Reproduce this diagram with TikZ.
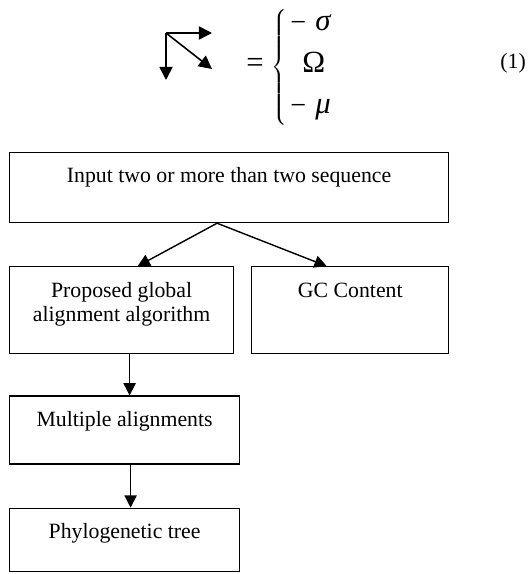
\documentclass[tikz,border=0pt]{standalone}
\usepackage{fontspec}
\setmainfont{Liberation Serif}
\usetikzlibrary{arrows.meta, positioning, calc}

\begin{document}
\begin{tikzpicture}[
  x=0.02cm, y=-0.02cm,
  caja/.style={draw, line width=0.7pt, inner sep=0pt},
  texto/.style={inner sep=0pt, outer sep=0pt, align=center,
                font=\fontsize{12.4}{13.4}\selectfont},
  linea/.style={texto, text height=8.2pt},
  flecha/.style={-{Triangle[length=7pt, width=7pt]}, line width=0.8pt},
  simbolo/.style={-{Triangle[length=7.5pt, width=7.5pt]}, line width=0.9pt},
  mate/.style={inner sep=0pt, font=\fontsize{16}{18}\selectfont},
  griego/.style={inner sep=0pt, font=\fontsize{17.5}{19}\selectfont}
]
\useasboundingbox (0,0) rectangle (528,574);

% equation (1)
\coordinate (esq) at (166,33);
\coordinate (der) at (212,33);
\coordinate (diag) at (212,69);
\coordinate (abajo) at (166,80);
\draw[simbolo] (esq) -- (der);
\draw[simbolo] (esq) -- (diag);
\draw[simbolo] (esq) -- (abajo);
\node[griego, anchor=base west] (igual) at (246,73) {=};
\node[mate] (llave) at (280,68) {$\left\{\vphantom{\rule[-29pt]{0pt}{58pt}}\right.$};
\node[mate, anchor=base west] (menos1) at (290,32) {−};
\node[griego, anchor=base west] (sig) at (315,31) {\itshape σ};
\node[griego, anchor=base west] (omega) at (302,73) {Ω};
\node[mate, anchor=base west] (menos2) at (290,115) {−};
\node[griego, anchor=base west] (mu) at (315,114) {\itshape μ};
\node[anchor=base west, inner sep=0pt, font=\fontsize{12.4}{14}\selectfont] (num) at (500,69) {(1)};

% flowchart
\node[caja, minimum width=8.78cm, minimum height=1.4cm, anchor=north west] (inp) at (9,152) {};
\node[caja, minimum width=4.48cm, minimum height=1.74cm, below right=0.86cm and 0cm of inp.south west] (prop) {};
\node[caja, minimum width=3.94cm, minimum height=1.74cm, right=0.34cm of prop] (gc) {};
\node[caja, minimum width=4.6cm, minimum height=1.36cm, below right=0.82cm and 0cm of prop.south west] (mult) {};
\node[caja, minimum width=4.6cm, minimum height=1.26cm, below right=0.86cm and 0cm of mult.south west] (phyl) {};

\node[linea, below=9.4pt of inp.north] (inpT) {Input two or more than two sequence};
\node[texto, below=9.2pt of prop.north] (propT) {Proposed global\\alignment algorithm};
\node[linea, below=9.4pt of gc.north] (gcT) {GC Content};
\node[linea, below=9.4pt of mult.north] (multT) {Multiple alignments};
\node[linea, below=9.4pt of phyl.north] (phylT) {Phylogenetic tree};

\coordinate (split) at ($(inp.south)+(-12,0)$);
\coordinate (bajada) at ($(prop.south)+(8,0)$);
\coordinate (bajada2) at ($(mult.south)+(6,0)$);
\draw[flecha] (split) -- ($(prop.north)+(16,0)$);
\draw[flecha] (split) -- ($(gc.north)+(-23.5,0)$);
\draw[flecha] (bajada) -- (bajada |- mult.north);
\draw[flecha] (bajada2) -- (bajada2 |- phyl.north);
\end{tikzpicture}
\end{document}
